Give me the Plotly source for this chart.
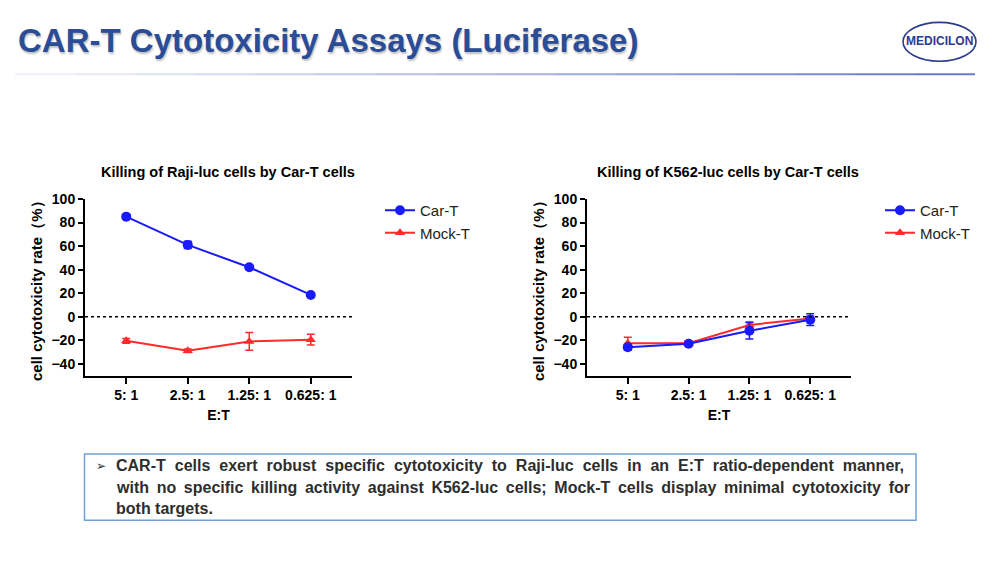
import plotly.graph_objects as go

# ---------------- data ----------------
categories = ["5: 1", "2.5: 1", "1.25: 1", "0.625: 1"]

raji_cart = [85, 61, 42, 18.5]
raji_cart_err = [2, 3, 2, 1]
raji_mock = [-20.5, -29, -21, -19.5]
raji_mock_err = [2, 1.5, 7.5, 4.5]

k562_cart = [-26, -23, -12, -2.5]
k562_cart_err = [2.5, 1.5, 7, 5]
k562_mock = [-22.5, -22.5, -7, -1.5]
k562_mock_err = [5, 2, 2.5, 2]

y_ticks = [-40, -20, 0, 20, 40, 60, 80, 100]

page_title = "CAR-T Cytotoxicity Assays (Luciferase)"
chart_titles = ["Killing of Raji-luc cells by Car-T cells",
                "Killing of K562-luc cells by Car-T cells"]
y_title = "cell cytotoxicity rate（%）"
x_title = "E:T"
summary_lines = [
    "CAR-T cells exert robust specific cytotoxicity to Raji-luc cells in an E:T ratio-dependent manner,",
    "with no specific killing activity against K562-luc cells; Mock-T cells display minimal cytotoxicity for",
    "both targets.",
]

# ---------------- styling ----------------
W, H = 1000, 562
FONT = "Liberation Sans, Arial, sans-serif"
BLUE = "#1a1aff"
RED = "#ff2a2a"


def px(x):
    return x / W


def py(y):
    # vertical calibration measured from a ruler test render
    y_set = (y - 5.6) / 0.988
    return 1 - y_set / H


fig = go.Figure()


def add_series(xa, ya, name, y, err, color, symbol, size, legend):
    fig.add_trace(go.Scatter(
        x=categories, y=y, name=name, mode="lines+markers",
        xaxis=xa, yaxis=ya, legend=legend,
        line=dict(color=color, width=2),
        marker=dict(color=color, symbol=symbol, size=size),
        error_y=dict(type="data", array=err, color=color, thickness=1.5, width=4),
    ))


add_series("x", "y", "Car-T", raji_cart, raji_cart_err, BLUE, "circle", 10, "legend")
add_series("x", "y", "Mock-T", raji_mock, raji_mock_err, RED, "triangle-up", 9, "legend")
add_series("x2", "y2", "Mock-T", k562_mock, k562_mock_err, RED, "triangle-up", 9, "legend2")
add_series("x2", "y2", "Car-T", k562_cart, k562_cart_err, BLUE, "circle", 10, "legend2")

axis_font = dict(family=FONT, size=14, color="black", weight="bold")
common_x = dict(
    type="category", range=[-0.67, 3.67], showline=True, linecolor="black", linewidth=2,
    ticks="outside", ticklen=6, tickwidth=2, tickcolor="black", showgrid=False, zeroline=False,
    tickfont=axis_font, title=dict(text=x_title, font=axis_font, standoff=8),
)
common_y = dict(
    range=[-50, 100], tickvals=y_ticks, showline=True, linecolor="black", linewidth=2,
    ticks="outside", ticklen=5, tickwidth=2, tickcolor="black", showgrid=False, zeroline=False,
    tickfont=axis_font, title=dict(text=y_title, font=dict(axis_font, size=15), standoff=5),
)

fig.update_layout(
    width=W, height=H, margin=dict(l=0, r=0, t=0, b=0),
    paper_bgcolor="white", plot_bgcolor="white",
    font=dict(family=FONT, color="black"),
    xaxis=dict(common_x, domain=[px(85), px(352)], anchor="y"),
    yaxis=dict(common_y, domain=[py(374), py(197)], anchor="x"),
    xaxis2=dict(common_x, domain=[px(587), px(851)], anchor="y2"),
    yaxis2=dict(common_y, domain=[py(374), py(197)], anchor="x2"),
    legend=dict(x=px(380), y=py(192), xanchor="left", yanchor="top",
                font=dict(family=FONT, size=15, color="#222"), bgcolor="rgba(0,0,0,0)",
                traceorder="normal"),
    legend2=dict(x=px(880), y=py(192), xanchor="left", yanchor="top",
                 font=dict(family=FONT, size=15, color="#222"), bgcolor="rgba(0,0,0,0)",
                 traceorder="reversed"),
    showlegend=True,
)

shapes = []
# dotted zero lines
for xr, yr in (("x domain", "y"), ("x2 domain", "y2")):
    shapes.append(dict(type="line", xref=xr, yref=yr, x0=0, x1=1, y0=0, y1=0,
                       line=dict(color="black", width=1.5, dash="dot")))

# header separator line (gradient approximated with segments)
n_seg = 16
x_start, x_end = 15, 975
for i in range(n_seg):
    t = i / (n_seg - 1)
    r = int(240 + (104 - 240) * t)
    g = int(242 + (122 - 242) * t)
    b = int(250 + (200 - 250) * t)
    xa = x_start + (x_end - x_start) * i / n_seg
    xb = x_start + (x_end - x_start) * (i + 1) / n_seg
    shapes.append(dict(type="line", xref="paper", yref="paper", x0=px(xa), x1=px(xb),
                       y0=py(72), y1=py(72), line=dict(color=f"rgb({r},{g},{b})", width=2)))

# logo ellipse
shapes.append(dict(type="circle", xref="paper", yref="paper", x0=px(903), x1=px(976),
                   y0=py(59), y1=py(20), line=dict(color="#2e3a8c", width=1.6)))

# summary text box
shapes.append(dict(type="rect", xref="paper", yref="paper", x0=px(84.5), x1=px(916),
                   y0=py(519), y1=py(452.5), line=dict(color="#6fa0d8", width=1.5),
                   fillcolor="rgba(0,0,0,0)"))
fig.update_layout(shapes=shapes)

annotations = []
annotations.append(dict(text=page_title, xref="paper", yref="paper", x=px(16), y=py(38.5),
                        xanchor="left", yanchor="middle", showarrow=False,
                        font=dict(family=FONT, size=33, weight="bold", color="#2b4c96",
                                  shadow="1px 2px 2px rgba(0,0,0,0.25)")))
annotations.append(dict(text="MEDICILON", xref="paper", yref="paper", x=px(939.5), y=py(39),
                        xanchor="center", yanchor="middle", showarrow=False,
                        font=dict(family=FONT, size=12, weight="bold", color="#2e3a8c")))
for cx, t in zip((228, 728), chart_titles):
    annotations.append(dict(text=t, xref="paper", yref="paper", x=px(cx), y=py(170),
                            xanchor="center", yanchor="middle", showarrow=False,
                            font=dict(family=FONT, size=14.5, weight="bold", color="black")))
annotations.append(dict(text="➢", xref="paper", yref="paper", x=px(94), y=py(465),
                        xanchor="left", yanchor="middle", showarrow=False,
                        font=dict(family="DejaVu Sans", size=12, color="#333")))
# the slide justifies the first two lines; widen their word gaps with thin spaces
gap_fill = ["\u2009\u200a", "\u2009", ""]
for yy, line, fill in zip((464.5, 486, 507), summary_lines, gap_fill):
    annotations.append(dict(text=line.replace(" ", " " + fill), xref="paper", yref="paper",
                            x=px(114), y=py(yy), xanchor="left", yanchor="middle",
                            showarrow=False,
                            font=dict(family=FONT, size=16, weight="bold", color="#2e2e2e")))
fig.update_layout(annotations=annotations)

fig.write_html("out.html")
